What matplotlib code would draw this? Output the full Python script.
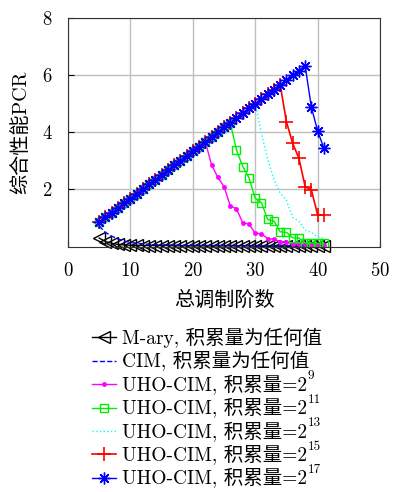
import numpy as np
import matplotlib
matplotlib.use('Agg')
import matplotlib.pyplot as plt

plt.rcParams['font.family'] = ['cmr10', 'DejaVu Serif', 'Noto Sans CJK SC', 'DejaVu Sans']
plt.rcParams['mathtext.fontset'] = 'cm'
plt.rcParams['axes.formatter.use_mathtext'] = True

# 总调制阶数
x_all = list(range(5, 42))

# M-ary / CIM, 积累量为任何值
mary = [0.30, 0.18, 0.12, 0.08, 0.06, 0.05, 0.05, 0.04, 0.04, 0.04,
        0.04, 0.04, 0.03, 0.03, 0.03, 0.03, 0.03, 0.03, 0.03, 0.03,
        0.03, 0.03, 0.03, 0.03, 0.03, 0.02, 0.02, 0.02, 0.02, 0.02,
        0.02, 0.02, 0.02, 0.02, 0.02, 0.02, 0.02]
cim = [0.72, 0.50, 0.37, 0.27, 0.20, 0.15, 0.12, 0.10, 0.08, 0.07,
       0.06, 0.06, 0.05, 0.05, 0.05, 0.04, 0.04, 0.04, 0.04, 0.04,
       0.04, 0.04, 0.03, 0.03, 0.03, 0.03, 0.03, 0.03, 0.03, 0.03,
       0.03, 0.03, 0.03, 0.03, 0.03, 0.03, 0.03]

# shared rising part, x = 5..38
rise = [0.85, 1.02, 1.18, 1.35, 1.51, 1.68, 1.84, 2.01, 2.18, 2.34,
        2.51, 2.67, 2.84, 3.01, 3.17, 3.34, 3.50, 3.67, 3.83, 4.00,
        4.17, 4.33, 4.50, 4.66, 4.83, 4.99, 5.16, 5.33, 5.49, 5.66,
        5.82, 5.99, 6.15, 6.32]

# falling parts
fall9 = [2.86, 2.43, 2.10, 1.43, 1.32, 0.84, 0.79, 0.47, 0.45, 0.28,
         0.26, 0.18, 0.16, 0.10, 0.09, 0.08, 0.07, 0.07, 0.07]      # x = 23..41
fall11 = [3.38, 2.80, 2.41, 1.69, 1.54, 0.95, 0.90, 0.52, 0.50, 0.31,
          0.30, 0.14, 0.13, 0.12, 0.12]                              # x = 27..41
fall13 = [3.96, 3.05, 2.35, 1.87, 1.62, 1.02, 0.90, 0.58, 0.50, 0.34,
          0.28]                                                      # x = 31..41
fall15 = [4.37, 3.61, 3.09, 2.10, 1.98, 1.12, 1.11]                 # x = 35..41
fall17 = [4.87, 4.05, 3.44]                                          # x = 39..41

exps = [9, 11, 13, 15, 17]
peak = {9: 22, 11: 26, 13: 30, 15: 34, 17: 38}
falls = {9: fall9, 11: fall11, 13: fall13, 15: fall15, 17: fall17}

def series(k):
    n = peak[k] - 5 + 1
    return rise[:n] + falls[k]

lab = 'UHO-CIM, 积累量=2'

fig = plt.figure(figsize=(3.93, 4.92), dpi=100)
ax = fig.add_axes([0.173, 0.4986, 0.794, 0.4654])

ax.plot(x_all, mary, '-', color='k', marker='<', mfc='none', ms=8, lw=1,
        label='M-ary, 积累量为任何值', clip_on=False)
ax.plot(x_all, cim, '--', color='#0000ff', lw=1,
        label='CIM, 积累量为任何值')
ax.plot(x_all, series(9), '-', color='#ff00ff', marker='.', ms=5, lw=1,
        label=lab)
ax.plot(x_all, series(11), '-', color='#00ee00', marker='s', mfc='none', ms=5.5, lw=1,
        label=lab)
ax.plot(x_all, series(13), ':', color='#00ffff', lw=1,
        label=lab)
ax.plot(x_all, series(15), '-', color='#ff0000', marker='+', ms=10, mew=1.2, lw=1.2,
        label=lab)
ax.plot(x_all, series(17), '-', color='#0000ff', marker=(8, 2, 0), ms=8.5, mew=1, lw=1,
        label=lab)

ax.set_xlim(0, 50)
ax.set_ylim(0, 8)
ax.set_xticks([0, 10, 20, 30, 40, 50])
ax.set_yticks([2, 4, 6, 8])
ax.grid(True, color='#c0c0c0', lw=1)
ax.set_axisbelow(True)
ax.tick_params(direction='in', length=4, labelsize=13.5, pad=11)
for s in ax.spines.values():
    s.set_color('#333333')
    s.set_linewidth(0.8)

ax.set_xlabel('总调制阶数', fontsize=14.5)
ax.set_ylabel('综合性能PCR', fontsize=14.5)
ax.xaxis.set_label_coords(0.5, -0.19)
ax.yaxis.set_label_coords(-0.12, 0.5)

leg = fig.legend(loc='upper left', bbox_to_anchor=(0.235, 0.334), frameon=False,
                 fontsize=14, handlelength=1.2, handletextpad=0.3,
                 labelspacing=0.17, borderpad=0, borderaxespad=0)

# superscripts of 2 in the legend labels
fig.canvas.draw()
r = fig.canvas.get_renderer()
inv = fig.transFigure.inverted()
for t, k in zip(leg.get_texts()[2:], exps):
    bb = t.get_window_extent(r).transformed(inv)
    fig.text(bb.x1 + 0.002, bb.y0 + 0.62 * bb.height, str(k), fontsize=9.5,
             ha='left', va='bottom')

fig.savefig('out.png', dpi=100)
